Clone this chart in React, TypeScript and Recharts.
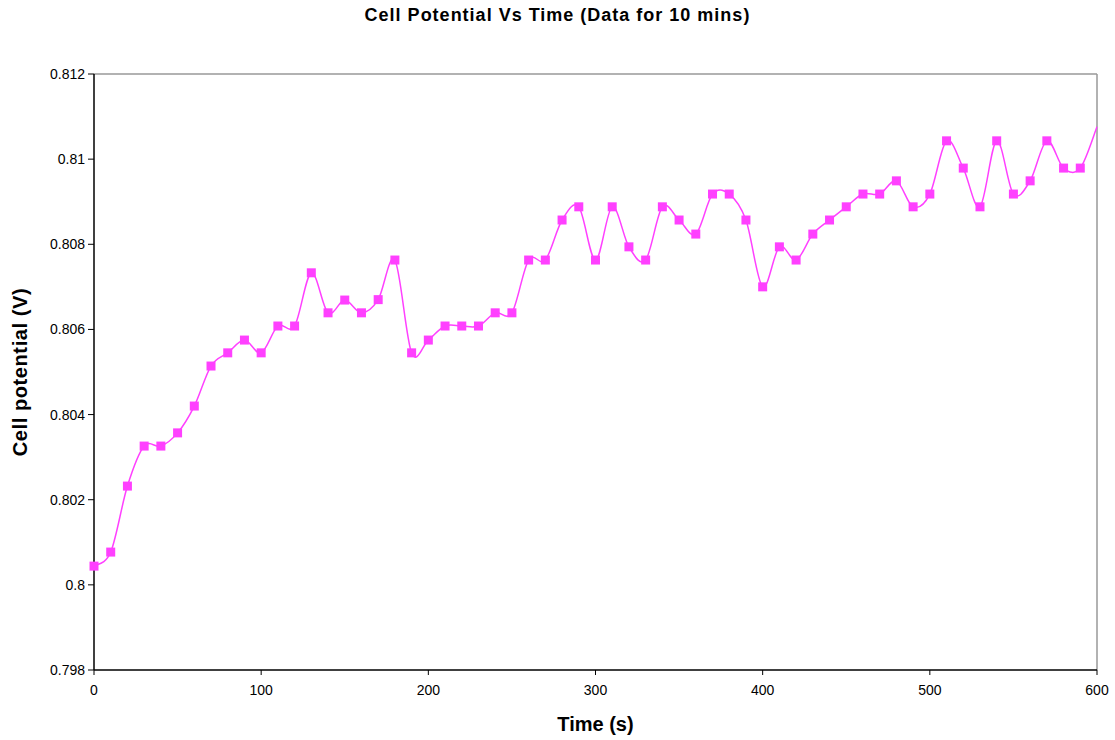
import { LineChart, Line, XAxis, YAxis, ReferenceLine, Label } from "recharts";

// time in seconds, cell potential in volts
const times = [
  0, 10, 20, 30, 40, 50, 60, 70, 80, 90, 100, 110, 120, 130, 140, 150, 160, 170, 180, 190,
  200, 210, 220, 230, 240, 250, 260, 270, 280, 290, 300, 310, 320, 330, 340, 350, 360, 370, 380, 390,
  400, 410, 420, 430, 440, 450, 460, 470, 480, 490, 500, 510, 520, 530, 540, 550, 560, 570, 580, 590, 600,
];
const potentials = [
  0.80044, 0.80077, 0.80232, 0.80326, 0.80326, 0.80357, 0.8042, 0.80514, 0.80545, 0.80575,
  0.80545, 0.80608, 0.80608, 0.80733, 0.80639, 0.80669, 0.80639, 0.8067, 0.80763, 0.80545,
  0.80575, 0.80608, 0.80608, 0.80608, 0.80639, 0.80639, 0.80763, 0.80763, 0.80857, 0.80888,
  0.80763, 0.80888, 0.80794, 0.80763, 0.80888, 0.80857, 0.80824, 0.80918, 0.80918, 0.80857,
  0.807, 0.80794, 0.80763, 0.80824, 0.80857, 0.80888, 0.80918, 0.80918, 0.80949, 0.80888,
  0.80918, 0.81043, 0.80979, 0.80888, 0.81043, 0.80918, 0.80949, 0.81043, 0.80979, 0.80979, 0.81076,
];
const xTicks = [0, 100, 200, 300, 400, 500, 600];
const yTicks = [0.798, 0.8, 0.802, 0.804, 0.806, 0.808, 0.81, 0.812];

const data = times.map((t, i) => ({ t, v: potentials[i] }));

const COLOR = "#FF40FF";
const FONT = "Liberation Sans, Arial, sans-serif";

// Excel-style smoothed line (Catmull-Rom through every point)
function smoothCurve(context: any) {
  let pts: number[][] = [];
  return {
    areaStart() {},
    areaEnd() {},
    lineStart() {
      pts = [];
    },
    lineEnd() {
      if (!pts.length) return;
      context.moveTo(pts[0][0], pts[0][1]);
      for (let i = 0; i < pts.length - 1; i++) {
        const p0 = pts[i - 1] || pts[i];
        const p1 = pts[i];
        const p2 = pts[i + 1];
        const p3 = pts[i + 2] || p2;
        context.bezierCurveTo(
          p1[0] + (p2[0] - p0[0]) / 6,
          p1[1] + (p2[1] - p0[1]) / 6,
          p2[0] - (p3[0] - p1[0]) / 6,
          p2[1] - (p3[1] - p1[1]) / 6,
          p2[0],
          p2[1]
        );
      }
    },
    point(x: number, y: number) {
      pts.push([x, y]);
    },
  };
}

const SquareDot = (props: any) => {
  const { cx, cy, index } = props;
  if (index === data.length - 1 || cx == null || cy == null) return <g key={index} />;
  return <rect key={index} x={cx - 4.5} y={cy - 4.5} width={9} height={9} fill={COLOR} />;
};

const fmt = (v: number) => String(Number(v.toFixed(3)));

export default function App() {
  return (
    <div style={{ position: "absolute", left: 0, top: 0, width: 1115, height: 740, background: "#fff", fontFamily: FONT }}>
      <div
        style={{
          position: "absolute",
          top: 5,
          width: 1115,
          textAlign: "center",
          fontWeight: "bold",
          fontSize: 18,
          letterSpacing: 1,
          color: "#000",
        }}
      >
        Cell Potential Vs Time (Data for 10 mins)
      </div>
      <LineChart width={1115} height={740} data={data} margin={{ top: 74, right: 18, bottom: 0, left: 34 }}>
        <XAxis
          dataKey="t"
          type="number"
          domain={[0, 600]}
          ticks={xTicks}
          interval={0}
          axisLine={{ stroke: "#000", strokeWidth: 1.5 }}
          tickLine={{ stroke: "#000" }}
          tickSize={5}
          tick={{ fill: "#000", fontSize: 14, fontFamily: FONT }}
          tickMargin={10}
          height={70}
        >
          <Label value="Time (s)" position="insideBottom" offset={9} style={{ fontWeight: "bold", fontSize: 20, fill: "#000", fontFamily: FONT }} />
        </XAxis>
        <YAxis
          type="number"
          domain={[0.798, 0.812]}
          ticks={yTicks}
          interval={0}
          tickFormatter={fmt}
          width={60}
          axisLine={{ stroke: "#000", strokeWidth: 1.5 }}
          tickLine={{ stroke: "#000" }}
          tickSize={6}
          tick={{ fill: "#000", fontSize: 14, fontFamily: FONT }}
          tickMargin={3}
        >
          <Label
            value="Cell potential (V)"
            angle={-90}
            position="insideLeft"
            offset={-14}
            style={{ textAnchor: "middle", fontWeight: "bold", fontSize: 20, letterSpacing: 0.6, fill: "#000", fontFamily: FONT }}
          />
        </YAxis>
        <ReferenceLine y={0.812} stroke="#999" strokeWidth={1.5} />
        <ReferenceLine x={600} stroke="#999" strokeWidth={1.5} />
        <Line
          dataKey="v"
          type={smoothCurve as any}
          stroke={COLOR}
          strokeWidth={1.5}
          dot={<SquareDot />}
          activeDot={false}
          isAnimationActive={false}
        />
      </LineChart>
    </div>
  );
}
